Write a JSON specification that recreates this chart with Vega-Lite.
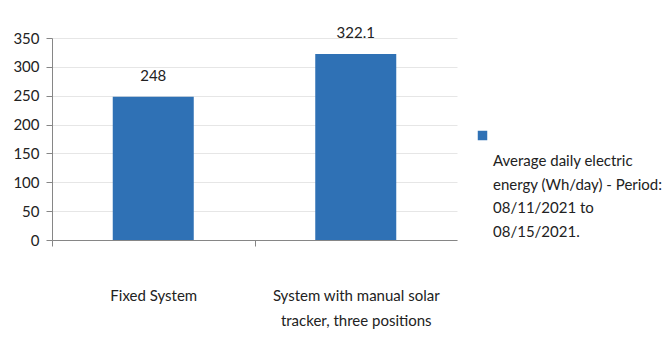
{
  "$schema": "https://vega.github.io/schema/vega-lite/v6.json",
  "autosize": {"type": "none"},
  "width": 405,
  "height": 202,
  "padding": {"left": 52, "top": 38, "right": 215, "bottom": 120},
  "background": "white",
  "config": {
    "view": {"stroke": null},
    "font": "Lato"
  },
  "data": {
    "values": [
      {"system": "Fixed System", "energy": 248, "label": "248", "series": "Average daily electric energy (Wh/day) - Period: 08/11/2021 to 08/15/2021."},
      {"system": "System with manual solar tracker, three positions", "energy": 322.1, "label": "322.1", "series": "Average daily electric energy (Wh/day) - Period: 08/11/2021 to 08/15/2021."}
    ]
  },
  "encoding": {
    "x": {
      "field": "system",
      "type": "nominal",
      "sort": null,
      "scale": {"paddingInner": 0.6, "paddingOuter": 0.3},
      "axis": {
        "title": null,
        "labelAngle": 0,
        "labelFont": "Lato",
        "labelFontSize": 15,
        "labelColor": "#222222",
        "labelLineHeight": 25,
        "labelPadding": 42,
        "labelLimit": 0,
        "labelOffset": 101.25,
        "labelExpr": "datum.value == 'Fixed System' ? datum.value : ['System with manual solar', 'tracker, three positions']",
        "bandPosition": 0.5,
        "tickOffset": -101.25,
        "tickSize": 6,
        "tickColor": "#868686",
        "domainColor": "#868686",
        "grid": false
      }
    },
    "y": {
      "field": "energy",
      "type": "quantitative",
      "scale": {"domain": [0, 350], "nice": false},
      "axis": {
        "title": null,
        "values": [0, 50, 100, 150, 200, 250, 300, 350],
        "labelFont": "Lato",
        "labelFontSize": 15,
        "labelColor": "#222222",
        "labelPadding": 7,
        "tickSize": 6,
        "tickColor": "#868686",
        "domainColor": "#868686",
        "gridColor": "#e6e6e6",
        "grid": true
      }
    }
  },
  "layer": [
    {
      "mark": {"type": "bar"},
      "encoding": {
        "color": {
          "field": "series",
          "type": "nominal",
          "scale": {"range": ["#2f71b5"]},
          "legend": {
            "title": null,
            "orient": "none",
            "legendX": 423,
            "legendY": 90,
            "padding": 0,
            "symbolType": "square",
            "symbolSize": 90,
            "symbolStrokeWidth": 0,
            "labelFont": "Lato",
            "labelFontSize": 15,
            "labelColor": "#222222",
            "labelLimit": 0,
            "labelOffset": 3,
            "labelBaseline": "top",
            "labelExpr": "['', 'Average daily electric', 'energy (Wh/day) - Period:', '08/11/2021  to', '08/15/2021.']",
            "encode": {"labels": {"update": {"lineHeight": {"value": 23.5}, "dy": {"value": -5}}}}
          }
        }
      }
    },
    {
      "mark": {"type": "text", "baseline": "middle", "dy": -21, "font": "Lato", "fontSize": 15, "color": "#222222"},
      "encoding": {
        "text": {"field": "label", "type": "nominal"}
      }
    }
  ]
}
